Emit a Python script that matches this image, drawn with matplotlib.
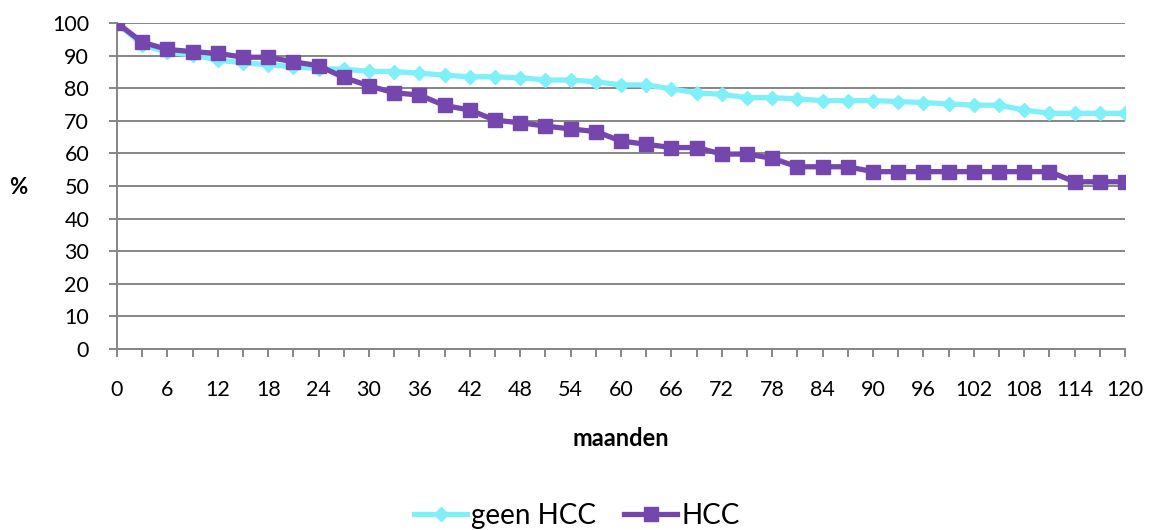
import matplotlib
matplotlib.use('Agg')
import matplotlib.pyplot as plt
import numpy as np

plt.rcParams['font.family'] = ['Lato', 'DejaVu Sans']

# months 0..120 step 3
months = list(range(0, 121, 3))
geen_hcc = [100, 93.3, 91.0, 90.2, 88.6, 87.8, 87.2, 86.6, 86.0, 85.8, 85.2, 85.1, 84.6,
            84.0, 83.5, 83.5, 83.2, 82.5, 82.5, 82.0, 81.0, 81.0, 79.8, 78.6, 78.1,
            77.1, 77.1, 76.7, 76.2, 76.2, 76.2, 75.9, 75.6, 75.2, 74.8, 74.8, 73.3,
            72.3, 72.3, 72.3, 72.3]
hcc = [100, 94.1, 91.9, 91.2, 90.7, 89.5, 89.5, 88.1, 86.9, 83.3, 80.7, 78.6, 77.9,
       74.7, 73.3, 70.2, 69.4, 68.4, 67.5, 66.7, 63.8, 62.8, 61.8, 61.8, 59.8,
       59.8, 58.5, 55.9, 55.9, 55.9, 54.4, 54.4, 54.4, 54.4, 54.4, 54.4, 54.4,
       54.4, 51.3, 51.3, 51.3]
x_labels = [str(m) for m in range(0, 121, 6)]

CYAN = "#7ff0f8"
PURPLE = "#7446ae"
GRID = "#868686"

fig = plt.figure(figsize=(11.51, 5.30), dpi=100)
ax = fig.add_axes([117/1151, 1 - 349/530, (1125 - 117)/1151, (349 - 23)/530])

ax.plot(months, geen_hcc, color=CYAN, lw=3.8, marker='D', ms=7, mec=CYAN,
        mfc=CYAN, label='geen HCC', zorder=3)
ax.plot(months, hcc, color=PURPLE, lw=3.8, marker='s', ms=9.5, mec=PURPLE,
        mfc=PURPLE, label='HCC', zorder=4)

ax.set_xlim(0, 120)
ax.set_ylim(0, 100)
ax.set_yticks(np.arange(0, 101, 10))
ax.set_xticks(range(0, 121, 6))
ax.set_xticklabels(x_labels)
ax.set_xticks(months, minor=True)

ax.yaxis.grid(True, color=GRID, lw=1.4)
ax.set_axisbelow(True)
for s in ['top', 'right']:
    ax.spines[s].set_visible(False)
for s in ['left', 'bottom']:
    ax.spines[s].set_color(GRID)
    ax.spines[s].set_linewidth(1.4)

ax.tick_params(axis='y', which='major', length=6, width=1.4, color=GRID,
               labelsize=15.5, pad=14)
ax.tick_params(axis='x', which='both', length=6, width=1.4, color=GRID,
               direction='out')
ax.tick_params(axis='x', which='major', labelsize=15.5, pad=16)

ax.set_xlabel('maanden', fontsize=17, fontweight='bold', labelpad=20)
fig.text(18/1151, 1 - 188/530, '%', fontsize=16, fontweight='bold',
         ha='center', va='center')

fig.legend(loc='center', bbox_to_anchor=(577/1151, 1 - 516/530), ncol=2,
           frameon=False, fontsize=20, handlelength=1.9, handletextpad=0.15,
           columnspacing=1.0, borderpad=0)

fig.savefig('out.png', dpi=100)
